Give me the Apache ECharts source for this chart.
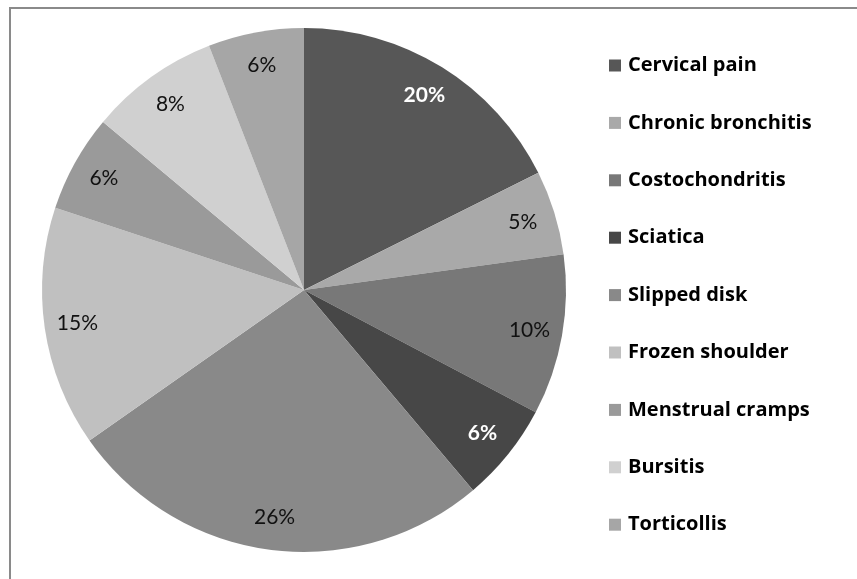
<!DOCTYPE html>
<html>
<head>
<meta charset="utf-8">
<script src="https://cdn.jsdelivr.net/npm/echarts@6/dist/echarts.min.js"></script>
<style>
  html, body { margin: 0; padding: 0; background: #fff; }
  #main { width: 857px; height: 579px; }
</style>
</head>
<body>
<div id="main"></div>
<script>
// categories in legend order (clockwise from 12 o'clock)
var categories = ['Cervical pain', 'Chronic bronchitis', 'Costochondritis', 'Sciatica',
    'Slipped disk', 'Frozen shoulder', 'Menstrual cramps', 'Bursitis', 'Torticollis'];
// slice sizes
var values = [17.6, 5.2, 9.9, 6.1, 26.4, 14.8, 6.0, 8.0, 5.9];
// percentage labels as printed on the chart
var pctLabels = ['20%', '5%', '10%', '6%', '26%', '15%', '6%', '8%', '6%'];
var colors = ['#575757', '#a9a9a9', '#787878', '#474747', '#898989', '#c0c0c0', '#9a9a9a', '#d0d0d0', '#a6a6a6'];
var labelColors = ['#fff', '#111', '#111', '#fff', '#111', '#111', '#111', '#111', '#111'];

var pieData = categories.map(function (name, i) {
    return { name: name, value: values[i], itemStyle: { color: colors[i] } };
});
var labelData = categories.map(function (name, i) {
    return {
        name: name, value: values[i],
        label: { color: labelColors[i], fontWeight: labelColors[i] == '#fff' ? 'bold' : 'normal' }
    };
});

var myChart = echarts.init(document.getElementById('main'), null, { renderer: 'canvas' });
var option = {
    backgroundColor: '#fff',
    animation: false,
    graphic: [{
        type: 'rect',
        shape: { x: 10, y: 8, width: 900, height: 620 },
        style: { fill: 'none', stroke: '#8a8a8a', lineWidth: 2 },
        silent: true
    }],
    legend: {
        orient: 'vertical',
        left: 604,
        top: 50.5,
        itemWidth: 12,
        itemHeight: 12,
        itemGap: 37.4,
        icon: 'rect',
        data: categories,
        textStyle: { fontFamily: 'Open Sans', fontSize: 20, fontWeight: 'bold', color: '#000', padding: [0, 0, 0, 2] }
    },
    series: [{
        name: 'pie',
        type: 'pie',
        center: [304, 290],
        radius: [0, 262],
        startAngle: 90,
        clockwise: true,
        label: { show: false },
        labelLine: { show: false },
        itemStyle: { borderWidth: 0 },
        emphasis: { disabled: true },
        data: pieData
    }, {
        // transparent ring only used to place the labels near the rim
        name: 'labels',
        type: 'pie',
        center: [304, 290],
        radius: [190, 262],
        startAngle: 90,
        clockwise: true,
        silent: true,
        itemStyle: { color: 'rgba(0,0,0,0)' },
        label: {
            show: true,
            position: 'inside',
            fontFamily: 'Lato',
            fontSize: 21,
            formatter: function (p) { return pctLabels[p.dataIndex]; }
        },
        labelLine: { show: false },
        emphasis: { disabled: true },
        data: labelData
    }]
};
myChart.setOption(option);
</script>
</body>
</html>
